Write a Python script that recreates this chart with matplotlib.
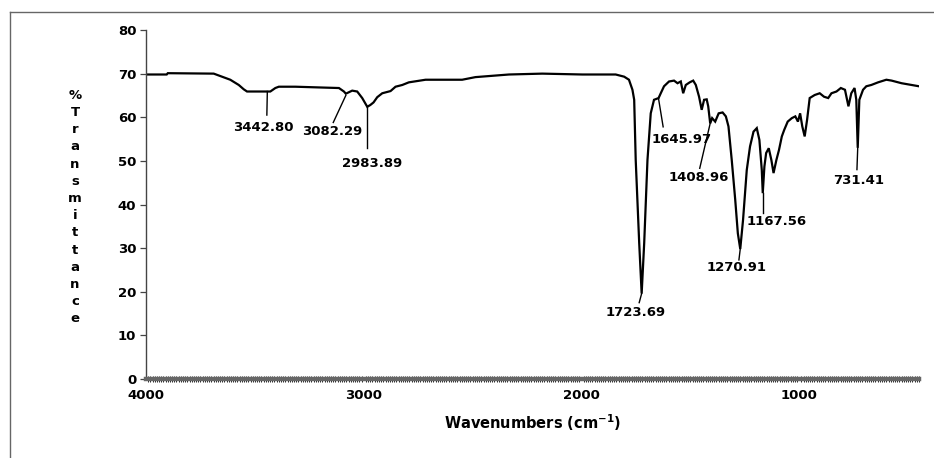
import matplotlib
matplotlib.use("Agg")
import matplotlib.pyplot as plt
from matplotlib.lines import Line2D
from matplotlib.ticker import MultipleLocator, FixedLocator

# ---- data ----
wavenumber = [4000, 3905, 3900, 3689, 3651, 3613, 3574, 3551, 3536, 3442.8, 3429, 3406, 3390,
              3314, 3183, 3114, 3091, 3082.29, 3053, 3030, 3007, 2983.89, 2970, 2955, 2938,
              2915, 2877, 2854, 2823, 2793, 2716, 2548, 2487, 2333, 2180, 1996, 1843, 1804,
              1782, 1766, 1758, 1751, 1735, 1723.69, 1712, 1697, 1682, 1667, 1645.97, 1636,
              1621, 1598, 1575, 1559, 1544, 1533, 1521, 1503, 1487, 1475, 1460, 1448, 1437,
              1425, 1418, 1408.96, 1400, 1386, 1370, 1352, 1337, 1325, 1310, 1294, 1282,
              1270.91, 1258, 1241, 1226, 1210, 1195, 1183, 1172, 1167.56, 1160, 1152, 1140,
              1128, 1118, 1105, 1093, 1080, 1069, 1053, 1034, 1018, 1006, 996, 986, 975, 964,
              952, 929, 906, 886, 867, 852, 829, 809, 790, 774, 761, 746, 738, 731.41, 724,
              707, 692, 669, 638, 600, 576, 530, 484, 450]
transmittance = [69.8, 69.8, 70.1, 70.0, 69.3, 68.6, 67.4, 66.4, 65.9, 65.9, 65.9, 66.7, 67.0,
                 67.0, 66.8, 66.7, 65.9, 65.4, 66.1, 65.9, 64.4, 62.4, 62.8, 63.4, 64.6,
                 65.5, 66.0, 67.0, 67.4, 68.0, 68.6, 68.6, 69.2, 69.8, 70.0, 69.8, 69.8, 69.3,
                 68.6, 66.3, 64.0, 50.2, 31.2, 19.6, 31.2, 50.2, 60.9, 64.0, 64.4, 65.5,
                 67.1, 68.2, 68.4, 67.8, 68.2, 65.5, 67.4, 68.0, 68.4, 67.4, 64.7, 61.7, 64.0,
                 64.1, 62.5, 58.6, 59.8, 59.0, 60.9, 61.1, 60.2, 57.9, 50.2, 41.1, 33.4,
                 29.8, 36.5, 47.9, 53.3, 56.7, 57.5, 54.8, 47.9, 42.6, 48.7, 51.8, 52.9,
                 50.2, 47.2, 50.2, 52.5, 55.6, 57.1, 59.0, 59.8, 60.2, 59.0, 60.9, 57.9, 55.6, 59.4,
                 64.4, 65.1, 65.5, 64.7, 64.4, 65.5, 65.9, 66.7, 66.3, 62.5, 65.5, 66.7, 64.0, 53.0, 64.0,
                 66.3, 67.1, 67.4, 68.0, 68.6, 68.4, 67.8, 67.4, 67.1]

peak_labels = ["3442.80", "3082.29", "2983.89", "1723.69", "1645.97",
               "1408.96", "1270.91", "1167.56", "731.41"]
peak_x = [3442.8, 3082.29, 2983.89, 1723.69, 1645.97, 1408.96, 1270.91, 1167.56, 731.41]
peak_y = [65.9, 65.0, 62.4, 19.6, 64.2, 58.6, 29.8, 42.6, 53.0]
line_end_x = [3445, 3140, 2983.89, 1735, 1625, 1457, 1277, 1167.56, 735]
line_end_y = [60.5, 58.8, 53.0, 17.5, 57.8, 48.3, 27.3, 38.0, 48.0]
text_x = [3461, 3147, 2961, 1753, 1538, 1462, 1289, 1102, 727]
text_y = [57.6, 56.8, 49.4, 15.2, 55.0, 46.2, 25.6, 36.1, 45.5]

x_ticks = [4000, 3000, 2000, 1000]
y_ticks = [0, 10, 20, 30, 40, 50, 60, 70, 80]
y_label = "% T r a n s m i t t a n c e".split()

# ---- figure ----
W, H = 934, 458
fig = plt.figure(figsize=(W / 100, H / 100), dpi=100)
ax = fig.add_axes([146 / W, 1 - 379 / H, (919 - 146) / W, (379 - 30) / H])

ax.plot(wavenumber, transmittance, color="black", lw=1.6, solid_joinstyle="miter")
ax.set_xlim(4000, 450)
ax.set_ylim(0, 80)

bold = dict(family="DejaVu Sans", weight="bold")

for s in ["top", "right"]:
    ax.spines[s].set_visible(False)
ax.spines["left"].set_color("#444444")
ax.spines["left"].set_linewidth(1.0)
ax.spines["bottom"].set_color("#666666")
ax.spines["bottom"].set_linewidth(3.2)

ax.yaxis.set_major_locator(FixedLocator(y_ticks))
ax.set_yticklabels([str(v) for v in y_ticks], **bold, fontsize=9.5)
ax.tick_params(axis="y", direction="out", length=4, width=0.9, color="#444444", pad=3)

ax.xaxis.set_major_locator(FixedLocator(x_ticks))
ax.set_xticklabels([str(v) for v in x_ticks], **bold, fontsize=9.5)
ax.xaxis.set_minor_locator(MultipleLocator(10))
ax.tick_params(axis="x", which="major", length=0, pad=7)
ax.tick_params(axis="x", which="minor", direction="inout", length=4.5, width=0.7,
               color="#222222")

ax.text(0.5, -0.125, "Wavenumbers (cm$^{\\mathbf{-1}}$)", transform=ax.transAxes,
        ha="center", va="center", fontsize=10.5, **bold)

fig.text(75 / W, 1 - 207 / H, "\n".join(y_label), ha="center", va="center",
         fontsize=9.5, linespacing=1.42, **bold)

for lab, px, py, ex, ey, tx, ty in zip(peak_labels, peak_x, peak_y, line_end_x,
                                        line_end_y, text_x, text_y):
    ax.plot([px, ex], [py, ey], color="black", lw=1.0)
    ax.text(tx, ty, lab, ha="center", va="center", fontsize=9.5, **bold)

# outer frame (top and left edges visible)
fig.add_artist(Line2D([10 / W, 1], [1 - 12 / H, 1 - 12 / H], transform=fig.transFigure,
                      color="#666666", lw=1.0))
fig.add_artist(Line2D([10 / W, 10 / W], [0, 1 - 12 / H], transform=fig.transFigure,
                      color="#666666", lw=1.0))

fig.savefig("out.png", dpi=100, facecolor="white")
